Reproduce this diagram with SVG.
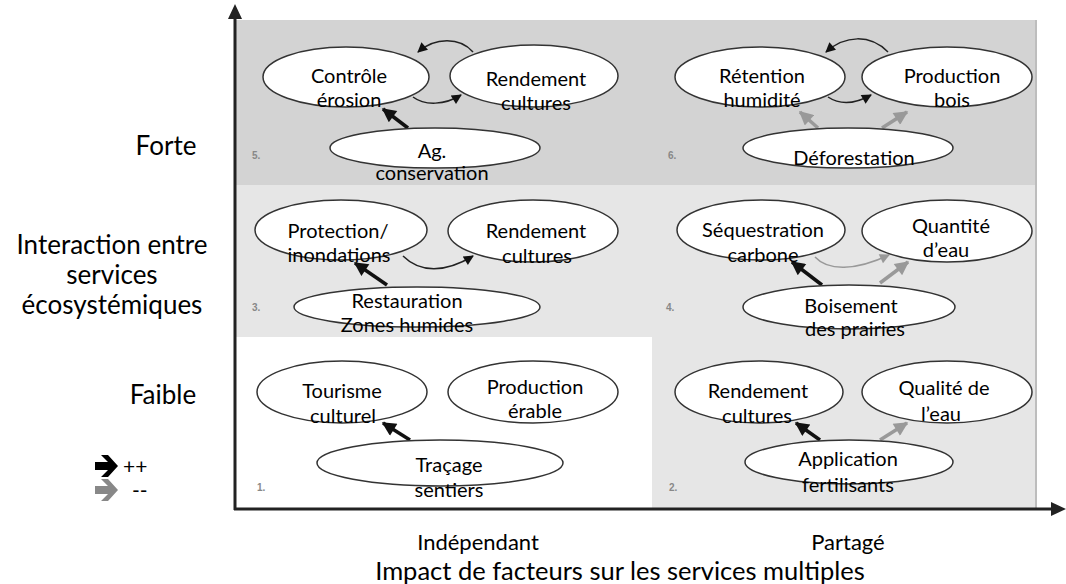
<svg xmlns="http://www.w3.org/2000/svg" width="1066" height="584" viewBox="0 0 1066 584">
<defs>
<style>
.n{fill:#fff;stroke:#333;stroke-width:1.5}
.t{font-family:Lato,"Open Sans","Liberation Sans",sans-serif;font-size:20px;fill:#000;text-anchor:middle}
.lab{font-family:Lato,"Open Sans","Liberation Sans",sans-serif;font-size:26px;fill:#000;text-anchor:middle}
.ax{font-family:Lato,"Open Sans","Liberation Sans",sans-serif;font-size:22px;fill:#000;text-anchor:middle}
.ax2{font-family:Lato,"Open Sans","Liberation Sans",sans-serif;font-size:25.5px;fill:#000;text-anchor:middle}
.lg{font-family:Lato,"Open Sans","Liberation Sans",sans-serif;font-size:21px;fill:#000}
.num{font-family:"Liberation Sans",Arial,sans-serif;font-size:10px;font-weight:bold;fill:#888}
.thin{fill:none;stroke:#222;stroke-width:1.5}
.thing{fill:none;stroke:#999;stroke-width:1.5}
.thk{fill:none;stroke:#111;stroke-width:3.5}
.thkg{fill:none;stroke:#999;stroke-width:3.5}
</style>
<marker id="hs" viewBox="0 0 10 10" refX="9" refY="5" markerWidth="12" markerHeight="10" markerUnits="userSpaceOnUse" orient="auto"><path d="M0,0 L10,5 L0,10 z" fill="#111"/></marker>
<marker id="hsg" viewBox="0 0 10 10" refX="9" refY="5" markerWidth="12" markerHeight="10" markerUnits="userSpaceOnUse" orient="auto"><path d="M0,0 L10,5 L0,10 z" fill="#999"/></marker>
<marker id="hb" viewBox="0 0 10 10" refX="9" refY="5" markerWidth="16" markerHeight="14" markerUnits="userSpaceOnUse" orient="auto"><path d="M0,0 L10,5 L0,10 z" fill="#111"/></marker>
<marker id="hbg" viewBox="0 0 10 10" refX="9" refY="5" markerWidth="16" markerHeight="14" markerUnits="userSpaceOnUse" orient="auto"><path d="M0,0 L10,5 L0,10 z" fill="#999"/></marker>
</defs>
<rect width="1066" height="584" fill="#fff"/>
<g id="background">
<rect x="236" y="20" width="800" height="165" fill="#d3d3d3"/>
<rect x="236" y="185" width="800" height="152" fill="#e6e6e6"/>
<rect x="652" y="337" width="384" height="172" fill="#e6e6e6"/>
<line x1="1036" y1="20" x2="1036" y2="508" stroke="#bdbdbd" stroke-width="2"/>
<text class="num" x="252" y="159">5.</text>
<text class="num" x="668" y="159">6.</text>
<text class="num" x="252" y="311">3.</text>
<text class="num" x="666" y="311">4.</text>
<text class="num" x="257" y="491">1.</text>
<text class="num" x="669" y="491">2.</text>
</g>
<g id="axes">
<line x1="235" y1="16" x2="235" y2="510" stroke="#222" stroke-width="3"/>
<polygon points="235,4 228,19 242,19" fill="#222"/>
<line x1="234" y1="509" x2="1053" y2="509" stroke="#222" stroke-width="3"/>
<polygon points="1066,509 1051,502 1051,516" fill="#222"/>
</g>
<g id="connectors">
<path class="thin" d="M473,52 C460,37 435,37 418,52" marker-end="url(#hs)"/>
<path class="thin" d="M413,97 C425,106 445,105 461,95" marker-end="url(#hs)"/>
<path class="thk" d="M408,128 L383,109" marker-end="url(#hb)"/>
<path class="thin" d="M888,52 C870,34 845,35 826,52" marker-end="url(#hs)"/>
<path class="thin" d="M828,97 C840,105 855,104 871,95" marker-end="url(#hs)"/>
<path class="thkg" d="M818,128 L800,112" marker-end="url(#hbg)"/>
<path class="thkg" d="M882,128 L907,112" marker-end="url(#hbg)"/>
<path class="thin" d="M403,256 C420,273 445,273 473,256" marker-end="url(#hs)"/>
<path class="thk" d="M387,285 L355,263" marker-end="url(#hb)"/>
<path class="thing" d="M815,257 C828,271 855,271 889,255" marker-end="url(#hsg)"/>
<path class="thk" d="M822,285 L792,262" marker-end="url(#hb)"/>
<path class="thkg" d="M880,283 L908,262" marker-end="url(#hbg)"/>
<path class="thk" d="M410,440 L383,423" marker-end="url(#hb)"/>
<path class="thk" d="M820,440 L796,423" marker-end="url(#hb)"/>
<path class="thkg" d="M880,440 L907,423" marker-end="url(#hbg)"/>
</g>
<g id="n5a"><ellipse class="n" cx="346" cy="77" rx="83" ry="30"/><text class="t" x="349" y="83">Contrôle</text><text class="t" x="349" y="107">érosion</text></g>
<g id="n5b"><ellipse class="n" cx="534" cy="76" rx="84" ry="31"/><text class="t" x="536" y="86">Rendement</text><text class="t" x="536" y="110">cultures</text></g>
<g id="n5c"><ellipse class="n" cx="435" cy="148" rx="105" ry="20"/><text class="t" x="432" y="158">Ag.</text><text class="t" x="432" y="180">conservation</text></g>
<g id="n6a"><ellipse class="n" cx="760" cy="77" rx="85" ry="30"/><text class="t" x="762" y="83">Rétention</text><text class="t" x="762" y="107">humidité</text></g>
<g id="n6b"><ellipse class="n" cx="947" cy="77" rx="85" ry="30"/><text class="t" x="952" y="83">Production</text><text class="t" x="952" y="107">bois</text></g>
<g id="n6c"><ellipse class="n" cx="848" cy="148" rx="105" ry="20"/><text class="t" x="854" y="165">Déforestation</text></g>
<g id="n3a"><ellipse class="n" cx="341" cy="230" rx="86" ry="30"/><text class="t" x="338" y="238">Protection/</text><text class="t" x="339" y="262">inondations</text></g>
<g id="n3b"><ellipse class="n" cx="533" cy="231" rx="85" ry="31"/><text class="t" x="536" y="238">Rendement</text><text class="t" x="537" y="263">cultures</text></g>
<g id="n3c"><ellipse class="n" cx="417" cy="307" rx="123" ry="20"/><text class="t" x="407" y="308">Restauration</text><text class="t" x="407" y="332">Zones humides</text></g>
<g id="n4a"><ellipse class="n" cx="761" cy="230" rx="84" ry="30"/><text class="t" x="763" y="237">Séquestration</text><text class="t" x="763" y="262">carbone</text></g>
<g id="n4b"><ellipse class="n" cx="947" cy="231" rx="85" ry="31"/><text class="t" x="951" y="233">Quantité</text><text class="t" x="946" y="257">d’eau</text></g>
<g id="n4c"><ellipse class="n" cx="849" cy="307" rx="106" ry="22"/><text class="t" x="851" y="313">Boisement</text><text class="t" x="855" y="336">des prairies</text></g>
<g id="n1a"><ellipse class="n" cx="342" cy="392" rx="85" ry="31"/><text class="t" x="342" y="398">Tourisme</text><text class="t" x="343" y="423">culturel</text></g>
<g id="n1b"><ellipse class="n" cx="533" cy="392" rx="85" ry="31"/><text class="t" x="535" y="394">Production</text><text class="t" x="535" y="418">érable</text></g>
<g id="n1c"><ellipse class="n" cx="440" cy="463" rx="123" ry="23"/><text class="t" x="449" y="472">Traçage</text><text class="t" x="449" y="497">sentiers</text></g>
<g id="n2a"><ellipse class="n" cx="759" cy="392" rx="84" ry="31"/><text class="t" x="758" y="398">Rendement</text><text class="t" x="757" y="423">cultures</text></g>
<g id="n2b"><ellipse class="n" cx="947" cy="392" rx="85" ry="31"/><text class="t" x="944" y="395">Qualité de</text><text class="t" x="941" y="421">l’eau</text></g>
<g id="n2c"><ellipse class="n" cx="849" cy="462" rx="104" ry="22"/><text class="t" x="848" y="466">Application</text><text class="t" x="848" y="492">fertilisants</text></g>
<g id="labels">
<text class="lab" x="166" y="155">Forte</text>
<text class="lab" x="112" y="254">Interaction entre</text>
<text class="lab" x="112" y="284">services</text>
<text class="lab" x="112" y="314">écosystémiques</text>
<text class="lab" x="163" y="404">Faible</text>
<text class="ax" x="478" y="550">Indépendant</text>
<text class="ax" x="848" y="550">Partagé</text>
<text class="ax2" x="620" y="580">Impact de facteurs sur les services multiples</text>
</g>
<g id="legend">
<path d="M95,462 L108,462 L101,455 L108,455 L118,466 L108,477 L101,477 L108,470 L95,470 z" fill="#000"/>
<text class="lg" x="123" y="474">++</text>
<path d="M95,486 L108,486 L101,479 L108,479 L118,490 L108,501 L101,501 L108,494 L95,494 z" fill="#888"/>
<text class="lg" x="132" y="498">--</text>
</g>
</svg>
